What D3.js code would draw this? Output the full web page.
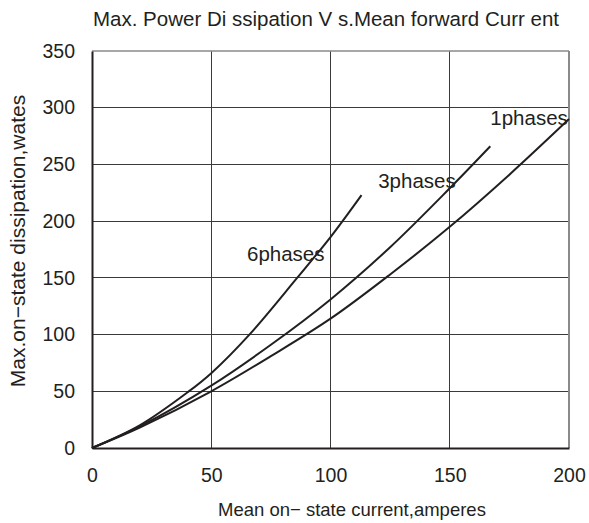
<!DOCTYPE html>
<html>
<head>
<meta charset="utf-8">
<script src="https://cdn.jsdelivr.net/npm/d3@7"></script>
<style>
  html, body { margin: 0; padding: 0; background: #fff; }
  svg text { font-family: "Liberation Sans", Arial, sans-serif; fill: #231f20; }
</style>
</head>
<body>
<svg id="chart" width="589" height="523"></svg>
<script>
// ---- Data ----
const title = "Max. Power Di ssipation V s.Mean forward Curr ent";
const xTitle = "Mean on\u2212 state current,amperes";
const yTitle = "Max.on\u2212state dissipation,wates";
const xTicks = [0, 50, 100, 150, 200];
const yTicks = [0, 50, 100, 150, 200, 250, 300, 350];
const seriesNames = ["1phases", "3phases", "6phases"];
const phase1X = [0, 20, 50, 75, 100, 125, 150, 175, 200];
const phase1Y = [0, 18, 50, 81, 114, 153, 195, 241, 290];
const phase3X = [0, 20, 50, 75, 100, 125, 150, 167];
const phase3Y = [0, 19, 55, 91, 131, 177, 229, 266];
const phase6X = [0, 20, 40, 50, 66, 86, 100, 113];
const phase6Y = [0, 20, 49, 66, 100, 150, 186, 223];
// label anchor points in data units
const labelX = [167, 120, 65];
const labelY = [285, 229, 165];

// ---- Layout ----
const svg = d3.select("#chart");
const m = { left: 92, right: 20, top: 51, bottom: 75 };
const W = 589, H = 523;
const x = d3.scaleLinear().domain([0, 200]).range([m.left, W - m.right]);
const y = d3.scaleLinear().domain([0, 350]).range([H - m.bottom, m.top]);

// gridlines
const g = svg.append("g");
g.selectAll("line.vx").data(xTicks.slice(1, -1)).enter().append("line")
  .attr("x1", d => x(d)).attr("x2", d => x(d))
  .attr("y1", y(0)).attr("y2", y(350))
  .attr("stroke", "#3a3a3a").attr("stroke-width", 1).attr("shape-rendering", "crispEdges");
g.selectAll("line.hy").data(yTicks.slice(1, -1)).enter().append("line")
  .attr("x1", x(0)).attr("x2", x(200))
  .attr("y1", d => y(d)).attr("y2", d => y(d))
  .attr("stroke", "#3a3a3a").attr("stroke-width", 1).attr("shape-rendering", "crispEdges");

// frame: top/right gray
g.append("line").attr("x1", x(0)).attr("x2", x(200)).attr("y1", y(350)).attr("y2", y(350))
  .attr("stroke", "#8a8a8a").attr("stroke-width", 1.5);
g.append("line").attr("x1", x(200)).attr("x2", x(200)).attr("y1", y(0)).attr("y2", y(350))
  .attr("stroke", "#8a8a8a").attr("stroke-width", 2);

// axes
const xAxis = d3.axisBottom(x).tickValues(xTicks).tickSize(0).tickPadding(24);
const yAxis = d3.axisLeft(y).tickValues(yTicks).tickSize(0).tickPadding(17);
const gx = svg.append("g").attr("transform", `translate(0,${y(0)})`).call(xAxis);
const gy = svg.append("g").attr("transform", `translate(${x(0)},0)`).call(yAxis);
[gx, gy].forEach(a => {
  a.select(".domain").attr("stroke", "#231f20").attr("stroke-width", 2);
  a.selectAll("text").attr("font-size", 19.5).attr("fill", "#231f20")
    .style("font-family", "'Liberation Sans', Arial, sans-serif");
});
gx.selectAll("text").attr("dy", "0.5em");

// curves
const series = [
  { name: seriesNames[0], xs: phase1X, ys: phase1Y },
  { name: seriesNames[1], xs: phase3X, ys: phase3Y },
  { name: seriesNames[2], xs: phase6X, ys: phase6Y }
];
const line = d3.line().x(d => x(d[0])).y(d => y(d[1])).curve(d3.curveCatmullRom.alpha(0.5));
svg.selectAll("path.curve").data(series).enter().append("path")
  .attr("class", "curve")
  .attr("d", s => line(s.xs.map((v, i) => [v, s.ys[i]])))
  .attr("fill", "none").attr("stroke", "#231f20").attr("stroke-width", 2);

// series labels
svg.selectAll("text.lab").data(series).enter().append("text")
  .attr("class", "lab")
  .attr("x", (s, i) => x(labelX[i])).attr("y", (s, i) => y(labelY[i]))
  .attr("font-size", 20.5)
  .text(s => s.name);

// titles
svg.append("text").attr("x", 93).attr("y", 26)
  .attr("font-size", 20.5).text(title);
svg.append("text").attr("x", 218).attr("y", 516)
  .attr("font-size", 18.5).text(xTitle);
svg.append("text").attr("transform", `translate(25,241) rotate(-90)`)
  .attr("text-anchor", "middle").attr("font-size", 21).text(yTitle);
</script>
</body>
</html>
